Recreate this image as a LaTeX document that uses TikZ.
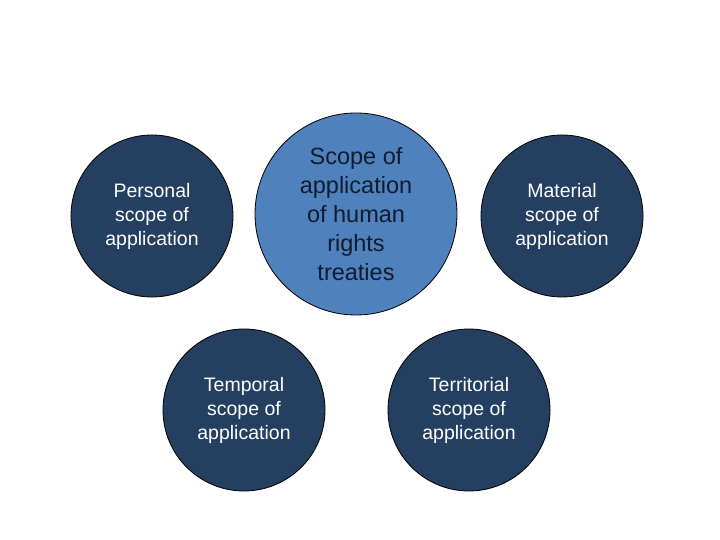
\documentclass[tikz,border=0pt]{standalone}
\usepackage{fontspec}
\setmainfont{Liberation Sans}
\definecolor{navy}{RGB}{36,63,96}
\definecolor{midblue}{RGB}{79,129,189}
\definecolor{darktext}{RGB}{16,28,48}
\begin{document}
\begin{tikzpicture}[x=1pt,y=1pt,
  outer/.style={circle,draw=black,line width=0.8pt,fill=navy,minimum size=162pt,inner sep=0pt,
    text=white,align=center,font=\fontsize{19.5}{24}\selectfont},
  centre/.style={circle,draw=black,line width=0.8pt,fill=midblue,minimum size=202pt,inner sep=0pt,
    text=darktext,align=center,font=\fontsize{23.5}{29}\selectfont}]
\useasboundingbox[fill=white] (0,0) rectangle (720,540);
\node[outer] (personal) at (152,324) {Personal\\scope of\\application};
\node[outer] (material) at (562,324) {Material\\scope of\\application};
\node[outer] (temporal) at (244,130) {Temporal\\scope of\\application};
\node[outer] (territorial) at (469,130) {Territorial\\scope of\\application};
\node[centre] (scope) at (356,326) {Scope of\\application\\of human\\rights\\treaties};
\end{tikzpicture}
\end{document}
